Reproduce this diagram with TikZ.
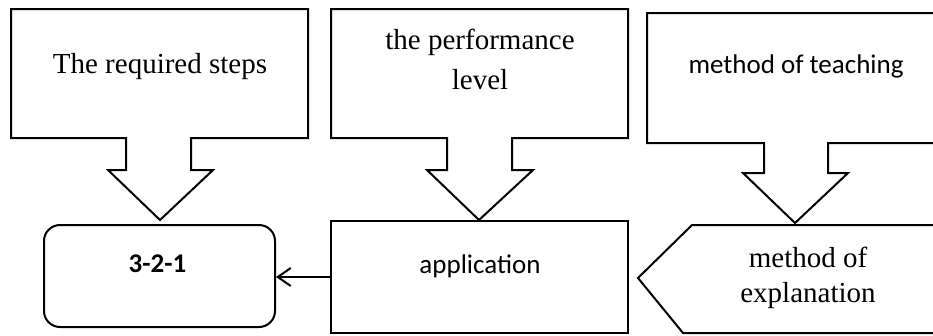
\documentclass[tikz,border=0pt]{standalone}
\usepackage{fontspec}
\setmainfont{Liberation Serif}
\newfontfamily\calfont{Carlito}
\usetikzlibrary{arrows.meta}
\tikzset{
  shapeline/.style={draw=black, line width=2pt, line join=miter, fill=white},
  serifbig/.style={font=\fontsize{29}{40}\selectfont, inner sep=0pt, align=center},
  serifexpl/.style={font=\fontsize{29}{35}\selectfont, inner sep=0pt, align=center},
  sanstext/.style={font=\calfont\fontsize{27}{32}\selectfont, inner sep=0pt},
  linkarrow/.style={draw=black, line width=2pt, -{Straight Barb[length=13pt,width=18pt,line width=2pt]}}
}
\begin{document}
\begin{tikzpicture}[x=1pt,y=-1pt]
\useasboundingbox (0,0) rectangle (933,335);
\fill[white] (0,0) rectangle (933,335);
\clip (0,0) rectangle (933,335);
% callout 1
\draw[shapeline] (11,9) -- (308,9) -- (308,138) -- (191,138) -- (191,170) -- (213,170)
  -- (160,220) coordinate (tip1) -- (108,170) -- (126,170) -- (126,138) -- (11,138) -- cycle;
\node[serifbig, anchor=base] (t1) at (160,73) {The required steps};
% callout 2
\draw[shapeline] (331,9) -- (628,9) -- (628,138) -- (512,138) -- (512,170) -- (533,170)
  -- (479,220) coordinate (tip2) -- (427,170) -- (447,170) -- (447,138) -- (331,138) -- cycle;
\node[serifbig, anchor=north] (t2) at (480,29) {the performance\\level};
% callout 3
\draw[shapeline] (647,13) -- (950,13) -- (950,143) -- (828,143) -- (828,173) -- (848,173)
  -- (795,223) coordinate (tip3) -- (743,173) -- (764,173) -- (764,143) -- (647,143) -- cycle;
\node[sanstext, anchor=base] (t3) at (796,73) {method of teaching};
% bottom row
\node[shapeline, rectangle, rounded corners=16pt, minimum width=231pt, minimum height=102pt] (b321) at (159.5,276) {};
\node[sanstext, anchor=base] (t4) at (157.5,272) {\bfseries 3-2-1};
\node[shapeline, rectangle, minimum width=297pt, minimum height=112pt] (app) at (479.5,277) {};
\node[sanstext, anchor=base] (t5) at (480,273) {application};
\draw[shapeline] (692,225) coordinate (expltop) -- (950,225) -- (950,333) -- (683,333) -- (638,278) coordinate (expltip) -- cycle;
\node[serifexpl, anchor=north] (t6) at (808,247) {method of\\explanation};
% connector
\draw[linkarrow] (app.west) -- (b321.east |- app.west);
\end{tikzpicture}
\end{document}
